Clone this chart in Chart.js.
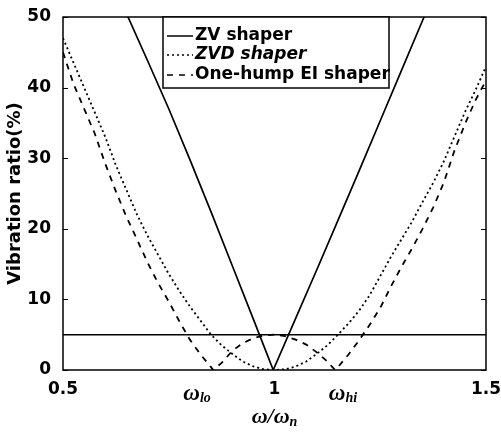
<!DOCTYPE html>
<html lang="en">
<head>
<meta charset="UTF-8">
<title>Vibration ratio of input shapers</title>
<script src="https://cdn.jsdelivr.net/npm/chart.js"></script>
<style>
  html, body { margin: 0; padding: 0; background: #fff; }
  canvas { display: block; }
</style>
</head>
<body>
<canvas id="chart" width="501" height="433"></canvas>
<script>
// values (omega / omega_n  ->  vibration ratio in %)
const zvFreq = [0.6, 0.65, 0.7, 0.75, 0.8, 0.85, 0.9, 0.95, 0.997, 1.05, 1.1, 1.15, 1.2, 1.25, 1.3, 1.35, 1.4];
const zvRatio = [57, 50.5, 43.8, 37, 29.8, 22.4, 14.8, 7.2, 0, 7.3, 14.2, 21.2, 28.2, 35.3, 42.4, 49.5, 56.5];

const zvdFreq = [0.5, 0.525, 0.55, 0.575, 0.6, 0.625, 0.65, 0.675, 0.7, 0.725, 0.75, 0.775, 0.8, 0.825, 0.85,
  0.875, 0.9, 0.925, 0.95, 0.975, 1.0, 1.025, 1.05, 1.075, 1.1, 1.125, 1.15, 1.175, 1.2, 1.225, 1.25,
  1.275, 1.3, 1.325, 1.35, 1.375, 1.4, 1.425, 1.45, 1.475, 1.5];
const zvdRatio = [47, 43.5, 40, 36.5, 33, 29, 25.5, 22, 19, 16.3, 13.6, 11.2, 9, 7, 5,
  3.5, 2.3, 1.2, 0.5, 0.1, 0, 0.1, 0.5, 1.2, 2.3, 3.5, 5, 6.6, 8.4, 10.6, 13.3,
  16, 18.5, 21, 23.8, 26.5, 29.5, 33, 36.5, 39.6, 43];

const eiFreq = [0.5, 0.525, 0.55, 0.575, 0.6, 0.625, 0.65, 0.675, 0.7, 0.725, 0.75, 0.775, 0.8, 0.825, 0.85,
  0.855, 0.875, 0.9, 0.925, 0.95, 0.975, 1.0, 1.025, 1.05, 1.075, 1.1, 1.125, 1.143,
  1.15, 1.175, 1.2, 1.225, 1.25, 1.275, 1.3, 1.325, 1.35, 1.375, 1.4, 1.425, 1.45, 1.475, 1.5];
const eiRatio = [45, 40.5, 37, 33.5, 29.2, 25.3, 21.7, 18.5, 15.2, 12.3, 9.7, 6.9, 4.3, 2.2, 0.4,
  0, 1, 2.7, 3.8, 4.5, 4.9, 5, 4.8, 4.3, 3.6, 2.5, 1.2, 0,
  0.4, 2.2, 4.2, 6.4, 8.8, 11.8, 14.6, 17.2, 20, 23, 26.5, 31, 34.8, 38.2, 41];

// tolerance line
const tolFreq = [0.5, 1.5];
const tolRatio = [5, 5];

const seriesNames = ['ZV shaper', 'ZVD shaper', 'One-hump EI shaper'];
const xTickValues = [0.5, 1, 1.5];
const xTickLabels = ['0.5', '1', '1.5'];
const yTickValues = [0, 10, 20, 30, 40, 50];
const omegaTickValues = [0.817, 1.162];
const omegaTickSubs = ['lo', 'hi'];

const dashes = [[], [2, 3], [6, 6]];

function toPoints(xs, ys) {
  return xs.map((x, i) => ({ x: x, y: ys[i] }));
}

function lineSet(label, xs, ys, dash, width) {
  return {
    label: label,
    data: toPoints(xs, ys),
    borderColor: '#000',
    borderWidth: width,
    borderDash: dash,
    pointRadius: 0,
    tension: 0,
    fill: false
  };
}

// draws "ω" with an italic subscript
function drawOmega(ctx, sub, cx, cy, big, small) {
  ctx.font = 'bold italic ' + big + 'px "Liberation Serif"';
  const w1 = ctx.measureText('ω').width;
  ctx.font = 'bold italic ' + small + 'px "Liberation Serif"';
  const w2 = ctx.measureText(sub).width;
  let x = cx - (w1 + w2) / 2;
  ctx.font = 'bold italic ' + big + 'px "Liberation Serif"';
  ctx.fillText('ω', x, cy);
  ctx.font = 'bold italic ' + small + 'px "Liberation Serif"';
  ctx.fillText(sub, x + w1, cy + 4);
}

const decor = {
  id: 'decor',
  afterDatasetsDraw(chart) {
    const ctx = chart.ctx;
    const a = chart.chartArea;
    const yScale = chart.scales.y;
    ctx.save();
    ctx.strokeStyle = '#000';
    ctx.lineWidth = 1.5;
    ctx.setLineDash([]);
    ctx.strokeRect(a.left, a.top, a.right - a.left, a.bottom - a.top);

    // inward ticks on both sides
    ctx.lineWidth = 1;
    yTickValues.forEach(v => {
      const y = Math.round(yScale.getPixelForValue(v)) + 0.5;
      ctx.beginPath();
      ctx.moveTo(a.left, y); ctx.lineTo(a.left + 5, y);
      ctx.moveTo(a.right, y); ctx.lineTo(a.right - 5, y);
      ctx.stroke();
    });

    // legend box, top edge on the axes frame
    const lx = a.left + 100, ly = a.top, lw = 226, lh = 71;
    ctx.fillStyle = '#fff';
    ctx.fillRect(lx, ly, lw, lh);
    ctx.lineWidth = 1.5;
    ctx.strokeRect(lx, ly, lw, lh);
    const rows = [19, 38, 58];
    chart.data.datasets.slice(0, 3).forEach((ds, i) => {
      const y = ly + rows[i];
      ctx.setLineDash(dashes[i]);
      ctx.lineWidth = 1.5;
      ctx.beginPath();
      ctx.moveTo(lx + 4, y);
      ctx.lineTo(lx + 30, y);
      ctx.stroke();
      ctx.setLineDash([]);
      ctx.fillStyle = '#000';
      ctx.textBaseline = 'middle';
      ctx.textAlign = 'left';
      ctx.font = (i === 1 ? 'italic ' : '') + 'bold 17px "DejaVu Sans"';
      ctx.fillText(ds.label, lx + 32, y);
    });
    ctx.restore();
  },
  afterDraw(chart) {
    const ctx = chart.ctx;
    const xScale = chart.scales.x;
    ctx.save();
    ctx.fillStyle = '#000';
    ctx.textBaseline = 'middle';
    ctx.textAlign = 'left';
    omegaTickValues.forEach((v, i) => {
      drawOmega(ctx, omegaTickSubs[i], xScale.getPixelForValue(v), 394, 23, 14);
    });
    // x axis title  ω/ωn
    ctx.font = 'bold italic 22px "Liberation Serif"';
    const wo = ctx.measureText('ω').width;
    const ws = ctx.measureText('/').width;
    ctx.font = 'bold italic 14px "Liberation Serif"';
    const wn = ctx.measureText('n').width;
    const cx = (chart.chartArea.left + chart.chartArea.right) / 2;
    let x = cx - (wo * 2 + ws + wn) / 2;
    const y = 417;
    ctx.font = 'bold italic 22px "Liberation Serif"';
    ctx.fillText('ω', x, y); x += wo;
    ctx.fillText('/', x, y); x += ws;
    ctx.fillText('ω', x, y); x += wo;
    ctx.font = 'bold italic 14px "Liberation Serif"';
    ctx.fillText('n', x, y + 5);
    ctx.restore();
  }
};

const tickFont = { family: 'DejaVu Sans', weight: 'bold', size: 17 };

new Chart(document.getElementById('chart'), {
  type: 'line',
  data: {
    datasets: [
      lineSet(seriesNames[0], zvFreq, zvRatio, dashes[0], 1.7),
      lineSet(seriesNames[1], zvdFreq, zvdRatio, dashes[1], 1.8),
      lineSet(seriesNames[2], eiFreq, eiRatio, dashes[2], 1.8),
      lineSet('tolerance', tolFreq, tolRatio, [], 1.5)
    ]
  },
  options: {
    responsive: false,
    animation: false,
    layout: { padding: { left: 0, right: 15, top: 17, bottom: 0 } },
    plugins: {
      legend: { display: false },
      tooltip: { enabled: false }
    },
    scales: {
      x: {
        type: 'linear',
        min: 0.5,
        max: 1.5,
        grid: { display: false },
        border: { display: false },
        afterBuildTicks: s => { s.ticks = xTickValues.map(v => ({ value: v })); },
        ticks: {
          autoSkip: false,
          maxRotation: 0,
          color: '#000',
          font: tickFont,
          padding: 1,
          callback: (v, i) => xTickLabels[i]
        },
        afterFit: s => { s.height = 63; s.paddingLeft = 0; s.paddingRight = 0; }
      },
      y: {
        min: 0,
        max: 50,
        grid: { display: false },
        border: { display: false },
        afterBuildTicks: s => { s.ticks = yTickValues.map(v => ({ value: v })); },
        ticks: {
          color: '#000',
          font: tickFont,
          padding: 4
        },
        title: {
          display: true,
          text: 'Vibration ratio(%)',
          color: '#000',
          font: { family: 'DejaVu Sans', weight: 'bold', size: 18 },
          padding: { top: 5, bottom: 0 }
        },
        afterFit: s => { s.width = 63; s.paddingTop = 0; s.paddingBottom = 0; }
      }
    }
  },
  plugins: [decor]
});
</script>
</body>
</html>
